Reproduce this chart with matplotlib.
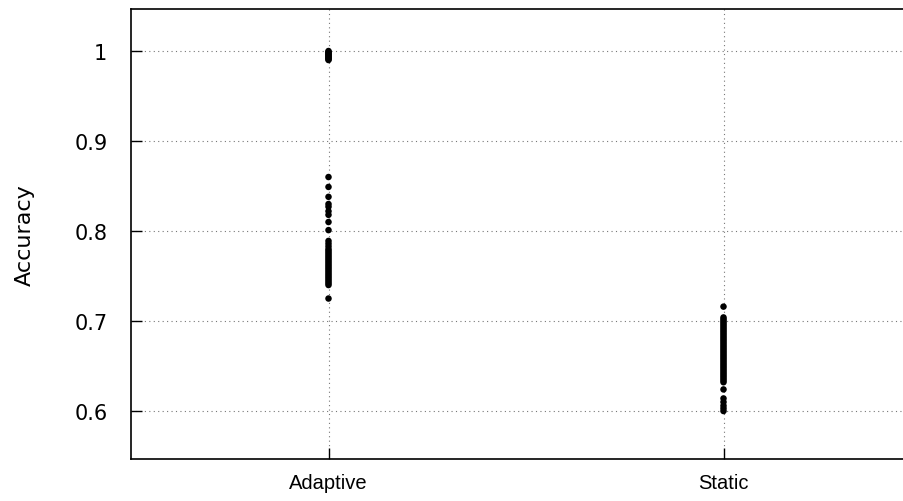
import matplotlib
matplotlib.use("Agg")
import matplotlib.pyplot as plt

plt.rcParams['font.family'] = ['Liberation Sans', 'DejaVu Sans']

categories = ["Adaptive", "Static"]

adaptive_acc = [
    1.000, 0.999, 0.998, 0.997, 0.996, 0.995, 0.994, 0.993, 0.992, 0.991, 0.990,
    0.860, 0.849, 0.838, 0.830, 0.827, 0.822, 0.818, 0.810, 0.801,
    0.789, 0.786, 0.783, 0.780, 0.778, 0.776, 0.774, 0.772, 0.770, 0.768,
    0.766, 0.764, 0.762, 0.760, 0.758, 0.756, 0.754, 0.752, 0.750, 0.748,
    0.746, 0.744, 0.742, 0.740, 0.725,
]

static_acc = [
    0.716, 0.704, 0.702, 0.700, 0.698, 0.696, 0.694, 0.692, 0.690, 0.688,
    0.686, 0.684, 0.682, 0.680, 0.678, 0.676, 0.674, 0.672, 0.670, 0.668,
    0.666, 0.664, 0.662, 0.660, 0.658, 0.656, 0.654, 0.652, 0.650, 0.648,
    0.646, 0.644, 0.642, 0.640, 0.638, 0.636, 0.634, 0.632, 0.624,
    0.614, 0.610, 0.606, 0.603, 0.600,
]

y_ticks = [0.6, 0.7, 0.8, 0.9, 1.0]
y_tick_labels = ["0.6", "0.7", "0.8", "0.9", "1"]

fig = plt.figure(figsize=(9.04, 5.02), dpi=100)
# plot box runs past the right edge of the canvas
ax = fig.add_axes([131 / 904, 1 - 460 / 502, 790 / 904, 450 / 502])

for i, vals in enumerate([adaptive_acc, static_acc]):
    ax.scatter([i] * len(vals), vals, s=22, color="black", edgecolors="none", zorder=3)

ax.set_xlim(-0.5, 1.5)
ax.set_ylim(0.5467, 1.0467)
ax.set_xticks(range(len(categories)))
ax.set_xticklabels(categories, fontsize=14.5)
ax.set_yticks(y_ticks)
ax.set_yticklabels(y_tick_labels, fontsize=15, family=["DejaVu Sans"])

ax.grid(True, linestyle=(0, (1, 3)), color="#777777", linewidth=0.8)
ax.tick_params(direction="in", length=8, width=1)
ax.tick_params(axis="x", pad=10)
ax.tick_params(axis="y", pad=17)
ax.set_ylabel("Accuracy", fontsize=16, family=["DejaVu Sans"], labelpad=28)
for side in ["left", "top", "bottom"]:
    ax.spines[side].set_linewidth(1.2)
ax.spines["right"].set_visible(False)

fig.savefig("out.png", dpi=100)
